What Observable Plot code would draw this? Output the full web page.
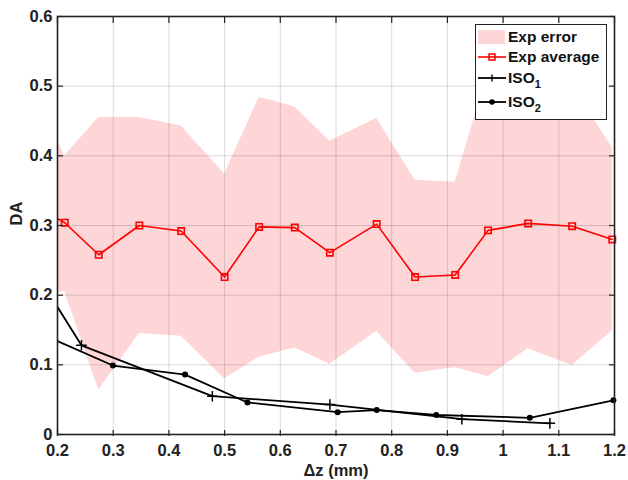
<!DOCTYPE html>
<html><head><meta charset="utf-8">
<script src="https://cdn.jsdelivr.net/npm/d3@7"></script>
<script src="https://cdn.jsdelivr.net/npm/@observablehq/plot@0.6"></script>
<style>
body{margin:0;background:#fff;font-family:"Liberation Sans",Arial,sans-serif;}
#wrap{position:relative;width:628px;height:480px;}
#legend{position:absolute;left:475px;top:24px;width:132px;height:96px;border:1.5px solid #222;background:#fff;font-weight:bold;font-size:15.5px;color:#111;box-sizing:border-box;}
.row{position:absolute;left:0;height:20px;}
.row span{position:absolute;left:32px;top:0;white-space:nowrap;line-height:20px;}
.row svg{position:absolute;left:2px;top:0;}
sub{font-size:11px;vertical-align:-5px;line-height:0;}
</style></head>
<body><div id="wrap"></div>
<script>
const expX = [0.2, 0.213, 0.274, 0.347, 0.422, 0.500, 0.562, 0.626, 0.689, 0.773, 0.842, 0.914, 0.973, 1.045, 1.124, 1.196];
const expAvg = [0.31, 0.304, 0.258, 0.300, 0.292, 0.226, 0.298, 0.297, 0.261, 0.302, 0.226, 0.229, 0.293, 0.303, 0.299, 0.280];
const errHi = [0.422, 0.400, 0.455, 0.455, 0.443, 0.374, 0.484, 0.470, 0.421, 0.454, 0.365, 0.362, 0.52, 0.53, 0.50, 0.412];
const errLo = [0.204, 0.205, 0.064, 0.145, 0.141, 0.080, 0.111, 0.124, 0.101, 0.148, 0.088, 0.096, 0.083, 0.123, 0.099, 0.149];
const iso1X = [0.2, 0.243, 0.478, 0.689, 0.926, 1.084];
const iso1Y = [0.183, 0.128, 0.055, 0.043, 0.022, 0.016];
const iso2X = [0.2, 0.2995, 0.429, 0.541, 0.703, 0.773, 0.880, 1.048, 1.198];
const iso2Y = [0.134, 0.099, 0.086, 0.046, 0.032, 0.035, 0.028, 0.024, 0.049];
const xTicks = [0.2, 0.3, 0.4, 0.5, 0.6, 0.7, 0.8, 0.9, 1.0, 1.1, 1.2];
const yTicks = [0, 0.1, 0.2, 0.3, 0.4, 0.5, 0.6];
const xLabel = "Δz (mm)";
const yLabel = "DA";

const band = expX.map((x, i) => ({x, lo: errLo[i], hi: errHi[i], avg: expAvg[i]}));
const iso1 = iso1X.map((x, i) => ({x, y: iso1Y[i]}));
const iso2 = iso2X.map((x, i) => ({x, y: iso2Y[i]}));
const fmt = d => String(+d.toFixed(1));
const FS = 16.5;

const chart = Plot.plot({
  width: 628, height: 480,
  marginLeft: 57, marginRight: 14, marginTop: 16, marginBottom: 46,
  style: {fontFamily: "'Liberation Sans', Arial, sans-serif", fontWeight: "bold", fontSize: "16px", color: "#222"},
  x: {domain: [0.2, 1.2]},
  y: {domain: [0, 0.6]},
  marks: [
    Plot.areaY(band, {x: "x", y1: "lo", y2: "hi", fill: "#ffd6d7", clip: true}),
    Plot.gridX(xTicks, {stroke: "#000", strokeOpacity: 0.15, strokeWidth: 1}),
    Plot.gridY(yTicks, {stroke: "#000", strokeOpacity: 0.15, strokeWidth: 1}),
    Plot.line(band, {x: "x", y: "avg", stroke: "#ff0000", strokeWidth: 1.6, clip: true}),
    Plot.dot(band.slice(1), {x: "x", y: "avg", symbol: "square", r: 3.6, stroke: "#ff0000", fill: "none", strokeWidth: 1.6}),
    Plot.line(iso1, {x: "x", y: "y", stroke: "#000", strokeWidth: 1.8, clip: true}),
    Plot.dot(iso1.slice(1), {x: "x", y: "y", symbol: "plus", r: 3.5, stroke: "#000", strokeWidth: 1.5}),
    Plot.line(iso2, {x: "x", y: "y", stroke: "#000", strokeWidth: 1.8, clip: true}),
    Plot.dot(iso2.slice(1), {x: "x", y: "y", r: 3, fill: "#000", stroke: "none"}),
    Plot.axisX(xTicks, {anchor: "bottom", tickSize: -6, tickPadding: 14, dy: 2, tickFormat: fmt, stroke: "#222", strokeWidth: 1.2, fontSize: FS, fill: "#222",
      label: null}),
    Plot.axisX(xTicks, {anchor: "top", tickSize: -6, tickFormat: () => "", label: null, stroke: "#222", strokeWidth: 1.2}),
    Plot.axisY(yTicks, {anchor: "left", tickSize: -6, tickPadding: 11, tickFormat: fmt, stroke: "#222", strokeWidth: 1.2, fontSize: FS, fill: "#222",
      label: null}),
    Plot.axisY(yTicks, {anchor: "right", tickSize: -6, tickFormat: () => "", label: null, stroke: "#222", strokeWidth: 1.2}),
    Plot.text([xLabel], {frameAnchor: "bottom", lineAnchor: "middle", dy: 36, fontSize: FS, fill: "#222", fontWeight: "bold"}),
    Plot.text([yLabel], {frameAnchor: "left", lineAnchor: "middle", dx: -41, rotate: -90, fontSize: FS, fill: "#222", fontWeight: "bold"}),
    Plot.frame({stroke: "#222", strokeWidth: 1.6})
  ]
});
const wrap = document.getElementById("wrap");
wrap.appendChild(chart);

const legend = document.createElement("div");
legend.id = "legend";
legend.innerHTML = `
 <div class="row" style="top:2px"><svg width="28" height="20"><rect x="0" y="3" width="27" height="14" fill="#ffd6d7"/></svg><span>Exp error</span></div>
 <div class="row" style="top:22px"><svg width="28" height="20"><line x1="0" y1="10" x2="28" y2="10" stroke="#ff0000" stroke-width="1.6"/><rect x="11" y="7" width="6" height="6" fill="none" stroke="#ff0000" stroke-width="1.5"/></svg><span>Exp average</span></div>
 <div class="row" style="top:43px"><svg width="28" height="20"><line x1="0" y1="10" x2="28" y2="10" stroke="#000" stroke-width="1.8"/><line x1="14" y1="6.5" x2="14" y2="13.5" stroke="#000" stroke-width="1.4"/></svg><span>ISO<sub>1</sub></span></div>
 <div class="row" style="top:67px"><svg width="28" height="20"><line x1="0" y1="10" x2="28" y2="10" stroke="#000" stroke-width="1.8"/><circle cx="14" cy="10" r="2.8" fill="#000"/></svg><span>ISO<sub>2</sub></span></div>`;
wrap.appendChild(legend);
</script></body></html>
